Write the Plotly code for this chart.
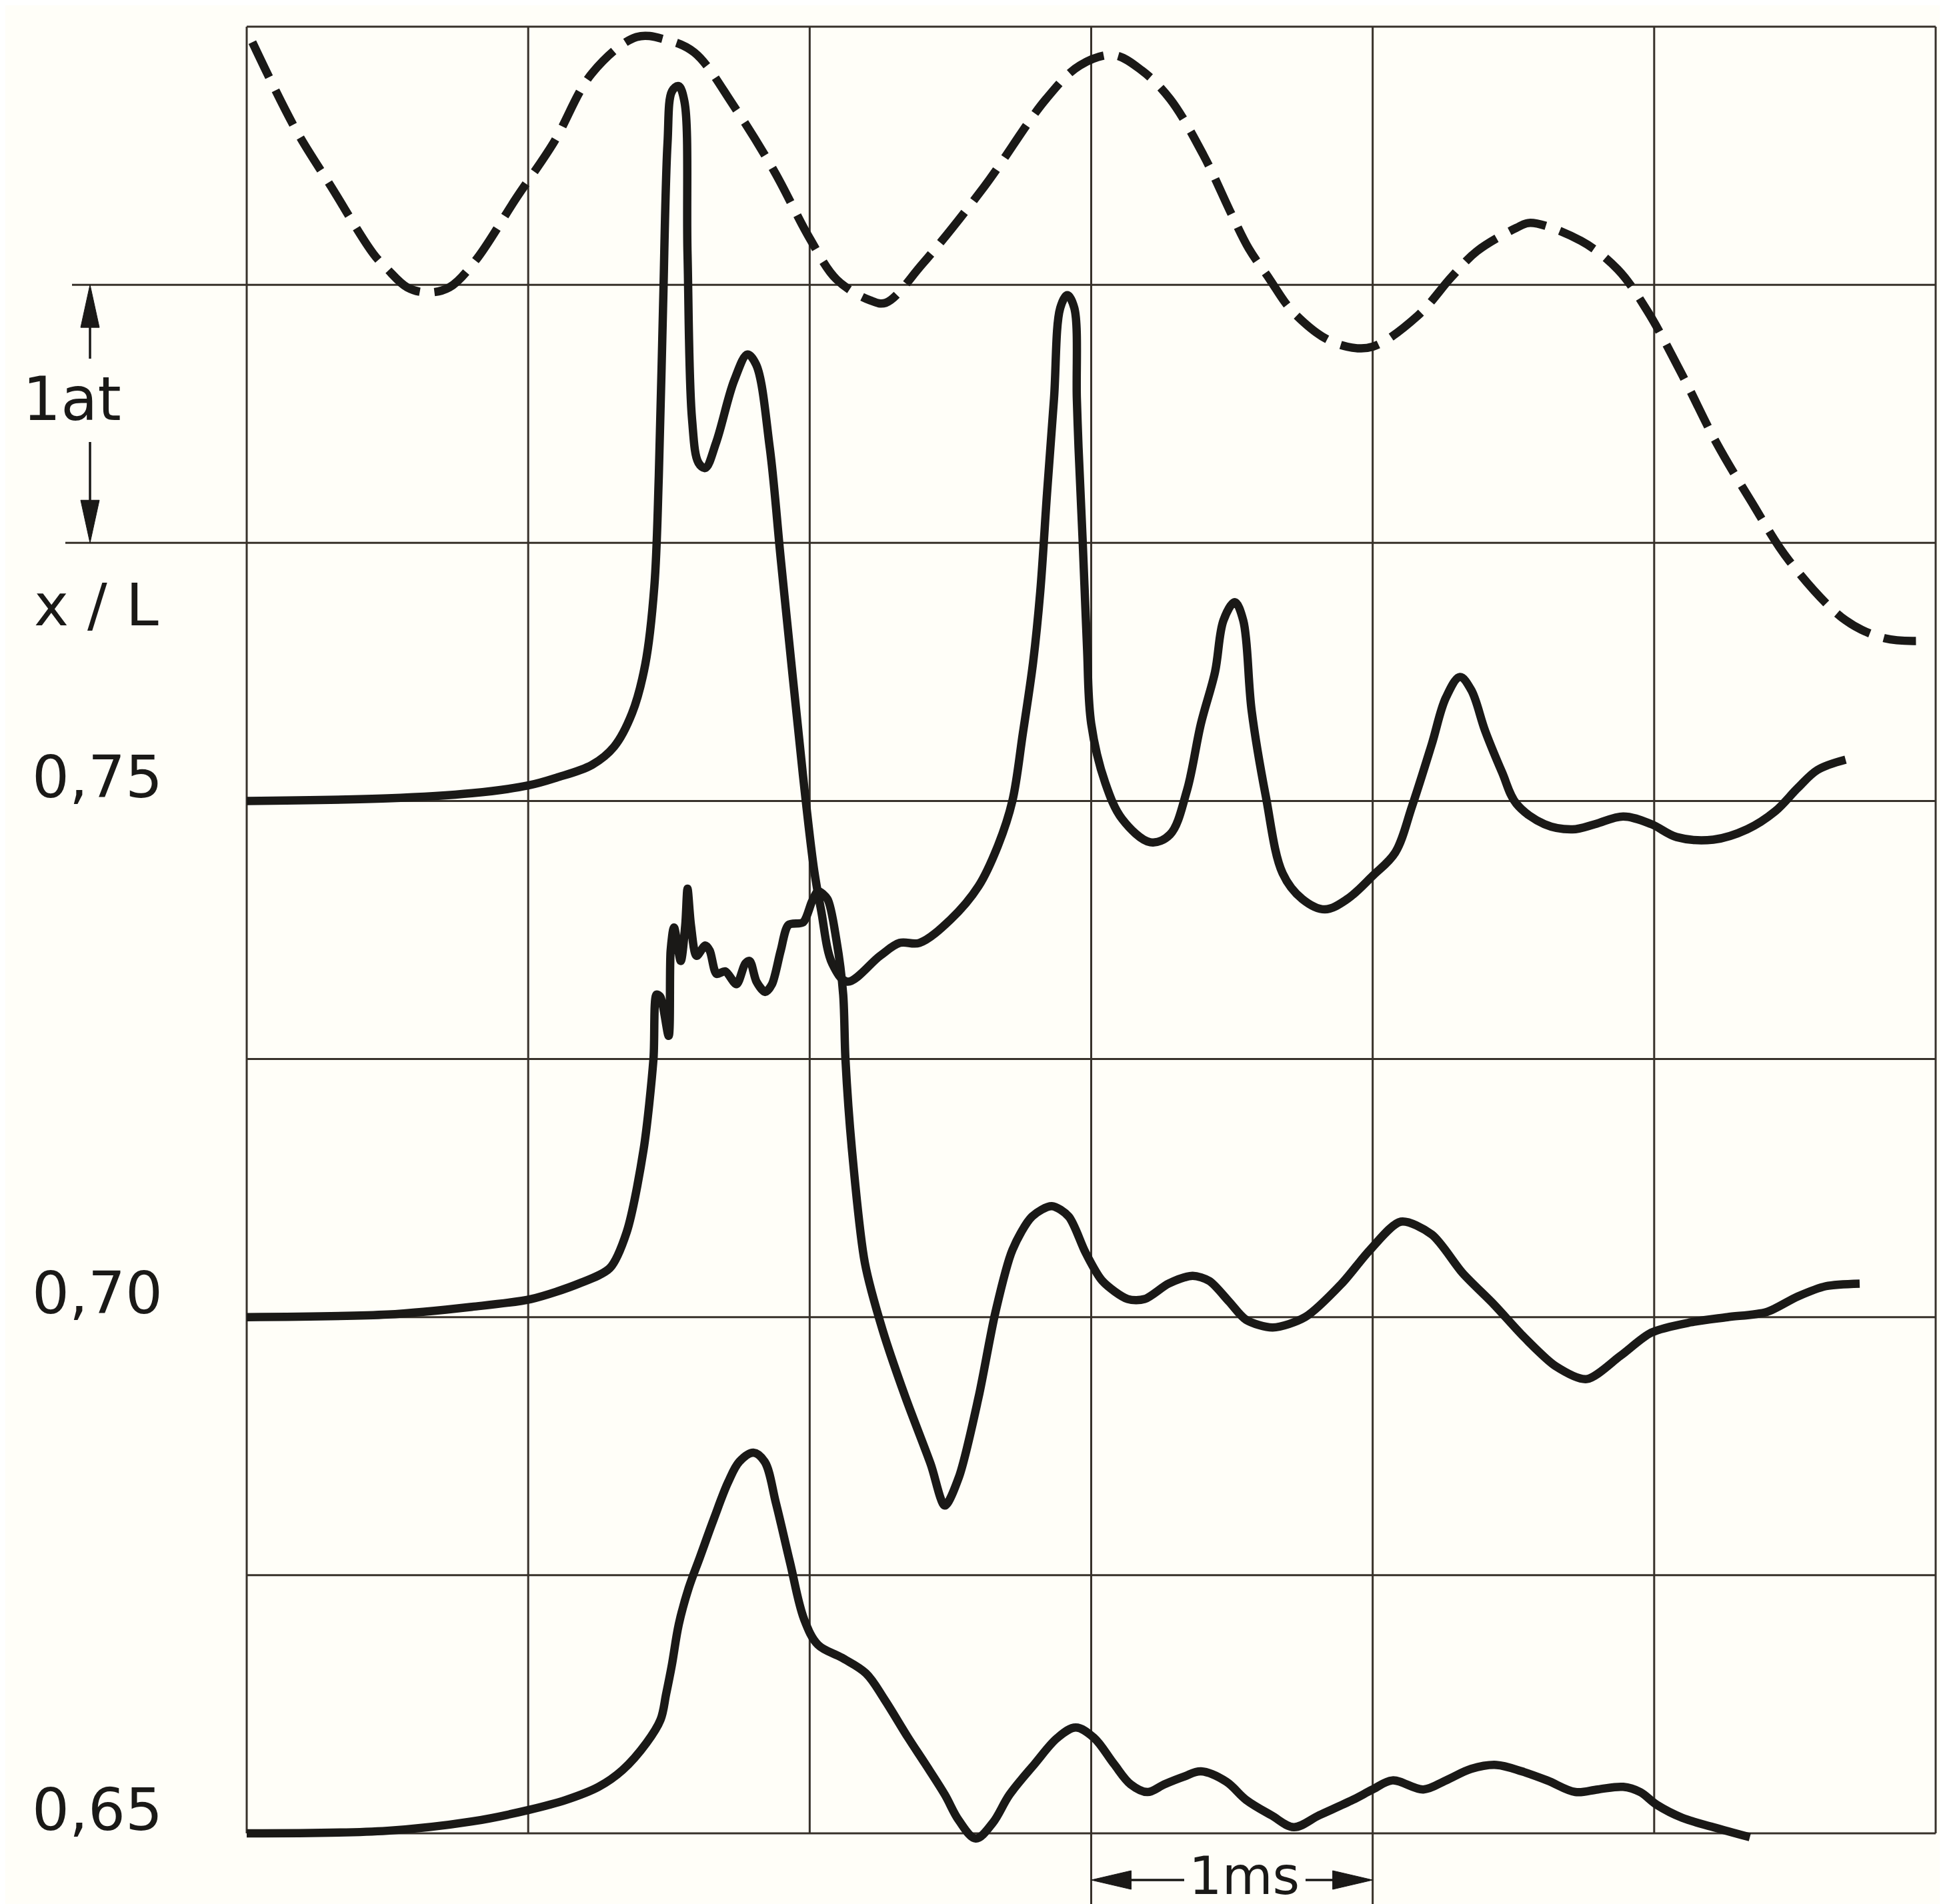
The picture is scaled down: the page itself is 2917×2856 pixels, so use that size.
import plotly.graph_objects as go

# ---------------- data (time in ms, pressure in at; one grid row = 1 at) ----------------
curve_labels = ["0,75", "0,70", "0,65"]      # x/L positions
baselines = [4.0, 2.0, 0.0]                  # zero line of each pressure trace
grid_t = [0, 1, 2, 3, 4, 5, 6]               # ms grid
grid_p = [0, 1, 2, 3, 4, 5, 6, 7]            # at grid

# dashed reference trace (absolute height above bottom line, at)
t_ref = [0.02, 0.175, 0.30, 0.45, 0.50, 0.57, 0.64, 0.72, 0.81, 0.96, 1.09, 1.227, 1.385,
         1.487, 1.59, 1.732, 1.874, 2.0, 2.096, 2.214, 2.27, 2.40, 2.62, 2.84, 2.96, 3.08,
         3.18, 3.28, 3.40, 3.50, 3.56, 3.635, 3.69, 3.73, 3.82, 3.91, 4.0, 4.16, 4.28, 4.37,
         4.51, 4.56, 4.74, 4.87, 4.975, 5.10, 5.22, 5.345, 5.48, 5.68, 5.82, 5.93]
p_ref = [6.94, 6.60, 6.38, 6.12, 6.06, 5.99, 5.97, 5.99, 6.09, 6.34, 6.55, 6.82, 6.96,
         6.95, 6.90, 6.69, 6.44, 6.18, 6.02, 5.94, 5.93, 6.08, 6.38, 6.72, 6.85, 6.89,
         6.83, 6.72, 6.50, 6.27, 6.14, 6.02, 5.93, 5.88, 5.80, 5.76, 5.76, 5.88, 6.03, 6.13,
         6.22, 6.24, 6.17, 6.06, 5.90, 5.65, 5.39, 5.16, 4.93, 4.70, 4.63, 4.62]

# x/L = 0.75 (pressure relative to its zero line)
t_075 = [0.0, 0.5, 0.8, 1.0, 1.1, 1.227, 1.305, 1.369, 1.416, 1.448, 1.464, 1.479, 1.495,
         1.511, 1.534, 1.555, 1.566, 1.582, 1.605, 1.629, 1.668, 1.732, 1.779, 1.810, 1.858,
         1.897, 1.937, 1.976, 2.016, 2.04, 2.08, 2.134, 2.25, 2.32, 2.39, 2.50, 2.60, 2.67,
         2.72, 2.757, 2.794, 2.819, 2.843, 2.868, 2.89, 2.915, 2.94, 2.949, 2.955, 2.97,
         2.985, 3.0, 3.05, 3.11, 3.21, 3.28, 3.34, 3.39, 3.44, 3.47, 3.51, 3.54, 3.57, 3.62,
         3.68, 3.75, 3.83, 3.91, 4.00, 4.08, 4.14, 4.21, 4.26, 4.31, 4.35, 4.40, 4.46, 4.51,
         4.61, 4.71, 4.79, 4.89, 4.99, 5.08, 5.21, 5.33, 5.43, 5.51, 5.58, 5.68]
p_075 = [0.00, 0.01, 0.03, 0.06, 0.09, 0.14, 0.21, 0.34, 0.53, 0.83, 1.26, 1.91, 2.55,
         2.75, 2.77, 2.71, 2.12, 1.48, 1.31, 1.29, 1.39, 1.63, 1.73, 1.69, 1.37,
         0.94, 0.51, 0.10, -0.27, -0.42, -0.63, -0.70, -0.60, -0.55, -0.55, -0.46, -0.33, -0.17,
         0.00, 0.26, 0.54, 0.81, 1.19, 1.56, 1.91, 1.96, 1.91, 1.56, 1.37, 1.00,
         0.60, 0.30, 0.07, -0.07, -0.16, -0.13, 0.04, 0.30, 0.50, 0.70, 0.77, 0.70, 0.35, 0.02,
         -0.28, -0.38, -0.42, -0.38, -0.29, -0.20, -0.02, 0.22, 0.40, 0.48, 0.43, 0.27, 0.11, -0.01,
         -0.09, -0.11, -0.09, -0.06, -0.09, -0.14, -0.15, -0.11, -0.04, 0.05, 0.12, 0.16]

# x/L = 0.70
t_070 = [0.0, 0.5, 0.8, 1.01, 1.18, 1.29, 1.35, 1.41, 1.445, 1.456, 1.47, 1.499, 1.506,
         1.518, 1.542, 1.558, 1.566, 1.578, 1.598, 1.629, 1.645, 1.669, 1.70, 1.74, 1.771,
         1.787, 1.811, 1.842, 1.866, 1.897, 1.925, 1.977, 2.008, 2.03, 2.063, 2.095, 2.119,
         2.127, 2.15, 2.196, 2.259, 2.34, 2.43, 2.48, 2.53, 2.60, 2.66, 2.72, 2.79, 2.86,
         2.92, 2.98, 3.04, 3.13, 3.19, 3.275, 3.36, 3.42, 3.49, 3.55, 3.645, 3.76, 3.89,
         3.99, 4.10, 4.21, 4.32, 4.43, 4.54, 4.65, 4.76, 4.88, 4.99, 5.13, 5.26, 5.40, 5.51,
         5.61, 5.73]
p_070 = [0.00, 0.01, 0.04, 0.07, 0.13, 0.19, 0.33, 0.65, 1.00, 1.25, 1.24, 1.09, 1.42,
         1.51, 1.38, 1.52, 1.66, 1.52, 1.40, 1.44, 1.42, 1.33, 1.34, 1.29, 1.37,
         1.38, 1.30, 1.26, 1.29, 1.42, 1.52, 1.53, 1.61, 1.65, 1.62, 1.46, 1.25,
         1.00, 0.65, 0.21, -0.05, -0.31, -0.57, -0.73, -0.62, -0.31, 0.02, 0.26, 0.39, 0.43,
         0.39, 0.25, 0.14, 0.07, 0.07, 0.13, 0.16, 0.14, 0.06, -0.01, -0.04, 0.00, 0.13,
         0.26, 0.37, 0.32, 0.17, 0.05, -0.08, -0.19, -0.24, -0.15, -0.06, -0.02, 0.00, 0.02, 0.08,
         0.12, 0.13]

# x/L = 0.65
t_065 = [0.0, 0.5, 0.8, 1.0, 1.136, 1.25, 1.335, 1.42, 1.47, 1.49, 1.51, 1.535, 1.57,
         1.61, 1.66, 1.71, 1.75, 1.80, 1.84, 1.88, 1.93, 1.98, 2.03, 2.115, 2.20, 2.265,
         2.35, 2.41, 2.48, 2.53, 2.59, 2.65, 2.71, 2.80, 2.88, 2.945, 3.01, 3.08, 3.14, 3.20,
         3.26, 3.33, 3.39, 3.48, 3.55, 3.64, 3.72, 3.81, 3.93, 4.0, 4.07, 4.18, 4.26, 4.35,
         4.44, 4.53, 4.62, 4.72, 4.80, 4.89, 4.95, 5.01, 5.10, 5.21, 5.34]
p_065 = [0.00, 0.01, 0.046, 0.09, 0.13, 0.18, 0.245, 0.35, 0.44, 0.54, 0.65, 0.81, 0.95,
         1.07, 1.22, 1.36, 1.44, 1.475, 1.44, 1.28, 1.05, 0.83, 0.73, 0.68, 0.62, 0.52,
         0.37, 0.27, 0.15, 0.05, -0.02, 0.04, 0.15, 0.27, 0.37, 0.41, 0.37, 0.27, 0.19, 0.16,
         0.19, 0.22, 0.24, 0.20, 0.13, 0.07, 0.024, 0.07, 0.13, 0.17, 0.205, 0.17, 0.205, 0.25,
         0.265, 0.24, 0.205, 0.16, 0.17, 0.18, 0.16, 0.11, 0.06, 0.024, -0.015]

t_series = [t_075, t_070, t_065]
p_series = [p_075, p_070, p_065]

# ---------------- geometry / style ----------------
W, H = 2917, 2856
ML, MR, MT, MB = 350, 12, 20, 86
X0PX, X6PX = 362, 2895          # pixel position of t=0 and t=6
Y0PX, Y7PX = 2742, 32           # pixel position of y=0 and y=7
xpu = (X6PX - X0PX) / 6.0
ypu = (Y0PX - Y7PX) / 7.0
plot_l, plot_r, plot_t, plot_b = ML, W - MR, MT, H - MB
x_range = [(plot_l - X0PX) / xpu, (plot_r - X0PX) / xpu]
y_range = [(Y0PX - plot_b) / ypu, (Y0PX - plot_t) / ypu]


def px_x(px):
    return (px - plot_l) / (plot_r - plot_l)


def px_y(py):
    return (plot_b - py) / (plot_b - plot_t)


def ypix(v):
    return Y0PX - v * ypu


def xpix(v):
    return X0PX + v * xpu


INK = "#1a1917"
GRID = "#37312a"
BG = "#fffef8"
FONT = "DejaVu Sans"
LW = 12.5

fig = go.Figure()

fig.add_trace(go.Scatter(
    x=t_ref, y=p_ref, mode="lines", hoverinfo="skip",
    line=dict(color=INK, width=LW, dash="58px,22px", shape="spline", smoothing=1.0)))

for t, p, b, sm in zip(t_series, p_series, baselines, [1.0, 0.8, 1.0]):
    fig.add_trace(go.Scatter(
        x=t, y=[b + v for v in p], mode="lines", hoverinfo="skip",
        line=dict(color=INK, width=LW, shape="spline", smoothing=sm)))

shapes = []
gl = dict(color=GRID, width=3)
# grid (frame) lines: verticals at each ms, horizontals at each at
for tv in grid_t:
    bottom = 2852 if tv in (3, 4) else Y0PX
    shapes.append(dict(type="line", xref="x", yref="paper", layer="below",
                       x0=tv, x1=tv, y0=px_y(bottom), y1=px_y(Y7PX), line=gl))
for pv in grid_p:
    left = {6: 100, 5: 90}.get(pv, X0PX)
    shapes.append(dict(type="line", xref="paper", yref="y", layer="below",
                       x0=px_x(left), x1=px_x(X6PX), y0=pv, y1=pv, line=gl))

ax_x = 127
al = dict(color=INK, width=3.5)
shapes.append(dict(type="line", xref="paper", yref="paper",
                   x0=px_x(ax_x), x1=px_x(ax_x), y0=px_y(ypix(6) + 60), y1=px_y(530), line=al))
shapes.append(dict(type="line", xref="paper", yref="paper",
                   x0=px_x(ax_x), x1=px_x(ax_x), y0=px_y(655), y1=px_y(ypix(5) - 60), line=al))


def tri(tip, base1, base2):
    return dict(type="path", xref="paper", yref="paper", fillcolor=INK, line=dict(color=INK, width=1),
                path=f"M {px_x(tip[0])},{px_y(tip[1])} L {px_x(base1[0])},{px_y(base1[1])} "
                     f"L {px_x(base2[0])},{px_y(base2[1])} Z")


y6, y5 = ypix(6), ypix(5)
shapes.append(tri((ax_x, y6), (ax_x - 14, y6 + 64), (ax_x + 14, y6 + 64)))
shapes.append(tri((ax_x, y5), (ax_x - 14, y5 - 64), (ax_x + 14, y5 - 64)))

# 1 ms scale bar below the grid
x3, x4 = xpix(3), xpix(4)
ay = 2812
shapes.append(dict(type="line", xref="paper", yref="paper",
                   x0=px_x(x3 + 55), x1=px_x(1768), y0=px_y(ay), y1=px_y(ay), line=al))
shapes.append(dict(type="line", xref="paper", yref="paper",
                   x0=px_x(1950), x1=px_x(x4 - 55), y0=px_y(ay), y1=px_y(ay), line=al))
shapes.append(tri((x3, ay), (x3 + 60, ay - 14), (x3 + 60, ay + 14)))
shapes.append(tri((x4, ay), (x4 - 60, ay - 14), (x4 - 60, ay + 14)))

annotations = []
for lab, b in zip(curve_labels, baselines):
    annotations.append(dict(text=lab, xref="paper", yref="paper", x=px_x(138),
                            y=px_y(ypix(b) - 36), xanchor="center", yanchor="middle",
                            showarrow=False, font=dict(family=FONT, size=88, color=INK)))
annotations.append(dict(text="1at", xref="paper", yref="paper", x=px_x(100), y=px_y(590),
                        xanchor="center", yanchor="middle", showarrow=False,
                        font=dict(family=FONT, size=90, color=INK)))
annotations.append(dict(text="x / L", xref="paper", yref="paper", x=px_x(136), y=px_y(900),
                        xanchor="center", yanchor="middle", showarrow=False,
                        font=dict(family=FONT, size=88, color=INK)))
annotations.append(dict(text="1ms", xref="paper", yref="paper", x=px_x(1858), y=px_y(2853),
                        xanchor="center", yanchor="bottom", showarrow=False,
                        font=dict(family=FONT, size=78, color=INK)))

axis_common = dict(showgrid=False, showticklabels=False, ticks="", zeroline=False,
                   showline=False, fixedrange=True)
fig.update_layout(
    width=W, height=H, autosize=False,
    margin=dict(l=ML, r=MR, t=MT, b=MB, pad=0),
    paper_bgcolor=BG, plot_bgcolor=BG,
    showlegend=False,
    xaxis=dict(range=x_range, **axis_common),
    yaxis=dict(range=y_range, **axis_common),
    shapes=shapes, annotations=annotations,
)

fig.write_html("out.html")
